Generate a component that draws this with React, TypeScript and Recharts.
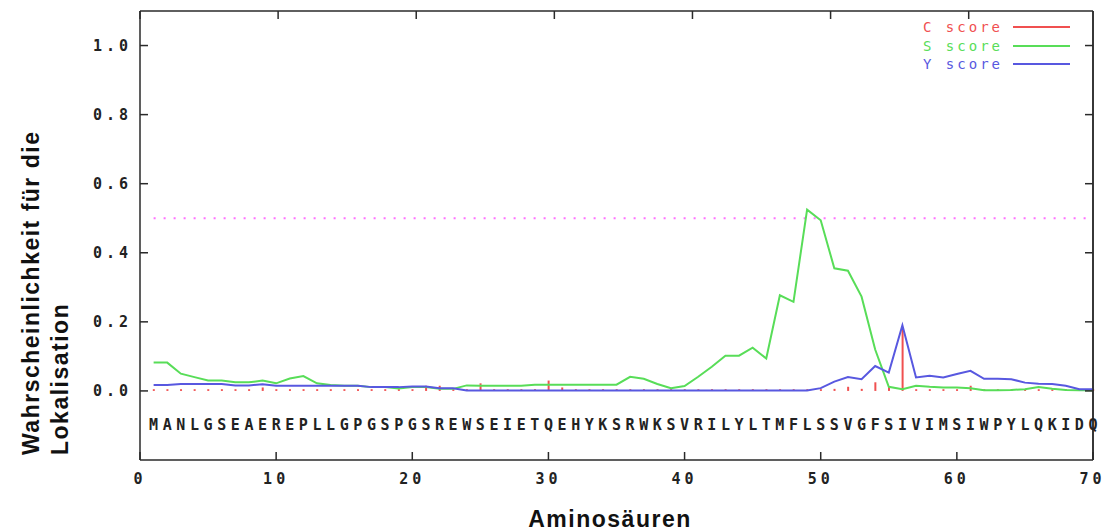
import {
  ComposedChart,
  Line,
  Bar,
  XAxis,
  YAxis,
  ReferenceLine,
  Legend,
} from "recharts"

// ── Sequence and per-residue scores ──────────────────────────────────────────
const SEQUENCE = "MANLGSEAEREPLLGPGSPGSREWSEIETQEHYKSRWKSVRILYLTMFLSSVGFSIVIMSIWPYLQKIDQ".split("")

const C_SCORE = [
  0.005, 0.005, 0.005, 0.005, 0.005, 0.005, 0.005, 0.005, 0.01, 0.005,
  0.005, 0.005, 0.005, 0.005, 0.005, 0.005, 0.005, 0.005, 0.005, 0.005,
  0.015, 0.015, 0.005, 0.005, 0.022, 0.005, 0.005, 0.005, 0.005, 0.03,
  0.01, 0.005, 0.005, 0.005, 0.005, 0.005, 0.005, 0.005, 0.005, 0.005,
  0.005, 0.005, 0.005, 0.005, 0.005, 0.005, 0.005, 0.005, 0.005, 0.005,
  0.006, 0.012, 0.006, 0.025, 0.012, 0.18, 0.005, 0.005, 0.005, 0.005,
  0.015, 0.005, 0.005, 0.005, 0.005, 0.005, 0.005, 0.005, 0.005, 0.005,
]

const S_SCORE = [
  0.082, 0.082, 0.05, 0.04, 0.03, 0.03, 0.025, 0.025, 0.03, 0.022,
  0.036, 0.043, 0.022, 0.017, 0.015, 0.015, 0.011, 0.011, 0.007, 0.011,
  0.011, 0.006, 0.006, 0.016, 0.015, 0.015, 0.015, 0.015, 0.018, 0.018,
  0.018, 0.018, 0.018, 0.018, 0.018, 0.041, 0.035, 0.02, 0.008, 0.014,
  0.041, 0.07, 0.102, 0.102, 0.125, 0.094, 0.277, 0.258, 0.525, 0.494,
  0.355, 0.348, 0.273, 0.12, 0.012, 0.005, 0.015, 0.012, 0.01, 0.01,
  0.008, 0.002, 0.002, 0.003, 0.005, 0.011, 0.006, 0.003, 0.002, 0.002,
]

const Y_SCORE = [
  0.017, 0.017, 0.02, 0.02, 0.02, 0.02, 0.016, 0.016, 0.019, 0.015,
  0.015, 0.015, 0.015, 0.015, 0.015, 0.015, 0.011, 0.011, 0.011, 0.013,
  0.013, 0.008, 0.008, 0.001, 0.001, 0.001, 0.001, 0.001, 0.001, 0.001,
  0.001, 0.001, 0.001, 0.001, 0.001, 0.001, 0.001, 0.001, 0.001, 0.001,
  0.001, 0.001, 0.001, 0.001, 0.001, 0.001, 0.001, 0.001, 0.001, 0.008,
  0.027, 0.04, 0.034, 0.072, 0.053, 0.19, 0.039, 0.044, 0.039, 0.049,
  0.058, 0.035, 0.035, 0.034, 0.024, 0.021, 0.02, 0.015, 0.005, 0.005,
]

const X_TICKS = [0, 10, 20, 30, 40, 50, 60, 70]
const Y_TICKS = [0, 0.2, 0.4, 0.6, 0.8, 1.0]
const Y_DOMAIN = [-0.2, 1.1]
const X_MAX = 70
const CUTOFF = 0.5
const SEQ_ROW = -0.1

const LEGEND_ITEMS = [
  { name: "C score", color: "#f05050" },
  { name: "S score", color: "#58dd58" },
  { name: "Y score", color: "#5858e0" },
]

const MONO = '"DejaVu Sans Mono", "Liberation Mono", monospace'
const SANS = '"Liberation Sans", Arial, sans-serif'
const FRAME = "#2a2a2a"

const data = SEQUENCE.map((aa, i) => ({
  pos: i + 1,
  aa,
  c: C_SCORE[i],
  s: S_SCORE[i],
  y: Y_SCORE[i],
}))

const tickStyle = { fontFamily: MONO, fontSize: 15, fontWeight: 700, fill: "#222", letterSpacing: 4 }
const frameLine = { stroke: FRAME, strokeWidth: 1.5 }

// residue letters written along the plot floor
function renderResidue(props: any) {
  const { cx, cy, payload, index } = props
  return (
    <text
      key={`aa-${index}`}
      x={cx}
      y={cy}
      textAnchor="middle"
      dominantBaseline="central"
      fontFamily={MONO}
      fontSize={15}
      fontWeight={700}
      fill="#222"
    >
      {payload.aa}
    </text>
  )
}

function renderLegend() {
  return (
    <div style={{ fontFamily: MONO, fontSize: 14, lineHeight: "18.5px" }}>
      {LEGEND_ITEMS.map((item) => (
        <div
          key={item.name}
          style={{ display: "flex", alignItems: "center", justifyContent: "flex-end" }}
        >
          <span style={{ color: item.color, letterSpacing: 3 }}>{item.name}</span>
          <span
            style={{
              display: "inline-block",
              width: 57,
              height: 2,
              background: item.color,
              marginLeft: 10,
            }}
          />
        </div>
      ))}
    </div>
  )
}

function renderYTitle() {
  return (
    <g fontFamily={SANS} fontSize={23} fontWeight={700} fill="#111" letterSpacing={1.5}>
      <text x={31} y={447} transform="rotate(-90 31 447)" textAnchor="start">
        Wahrscheinlichkeit für die
      </text>
      <text x={60} y={447} transform="rotate(-90 60 447)" textAnchor="start">
        Lokalisation
      </text>
    </g>
  )
}

function renderXTitle() {
  return (
    <text
      x={602}
      y={519}
      textAnchor="middle"
      fontFamily={SANS}
      fontSize={23}
      fontWeight={700}
      fill="#111"
      letterSpacing={1.5}
    >
      Aminosäuren
    </text>
  )
}

export default function App() {
  return (
    <>
      <style>{"html, body { overflow: hidden; }"}</style>
      <div
        style={{
          position: "absolute",
          top: 8,
          left: 8,
          width: 1096,
          height: 523,
          background: "#fff",
        }}
      >
        <ComposedChart
          width={1096}
          height={523}
          data={data}
          margin={{ top: 2, right: 10, left: 0, bottom: 8 }}
          style={{ overflow: "visible" }}
        >
          <XAxis
            xAxisId="bottom"
            type="number"
            dataKey="pos"
            domain={[0, X_MAX]}
            ticks={X_TICKS}
            height={63}
            tickSize={-8}
            tickMargin={21}
            axisLine={frameLine}
            tickLine={frameLine}
            tick={tickStyle}
            label={renderXTitle}
          />
          <XAxis
            xAxisId="top"
            orientation="top"
            type="number"
            domain={[0, X_MAX]}
            ticks={X_TICKS}
            height={1}
            tickSize={-8}
            tickFormatter={() => ""}
            axisLine={frameLine}
            tickLine={frameLine}
          />
          <YAxis
            yAxisId="left"
            type="number"
            domain={Y_DOMAIN}
            ticks={Y_TICKS}
            width={132}
            tickSize={-8}
            tickMargin={16}
            tickFormatter={(v: number) => v.toFixed(1)}
            axisLine={frameLine}
            tickLine={frameLine}
            tick={tickStyle}
            label={renderYTitle}
          />
          <YAxis
            yAxisId="right"
            orientation="right"
            type="number"
            domain={Y_DOMAIN}
            ticks={Y_TICKS}
            width={1}
            tickSize={-8}
            tickFormatter={() => ""}
            axisLine={frameLine}
            tickLine={frameLine}
          />
          {/* right edge of the plot frame */}
          <ReferenceLine
            xAxisId="bottom"
            yAxisId="left"
            x={X_MAX}
            stroke={FRAME}
            strokeWidth={1.5}
          />
          <ReferenceLine
            xAxisId="bottom"
            yAxisId="left"
            segment={[
              { x: 1, y: CUTOFF },
              { x: X_MAX, y: CUTOFF },
            ]}
            stroke="#ff70ff"
            strokeWidth={2}
            strokeDasharray="2 8"
          />
          <Line
            xAxisId="bottom"
            yAxisId="left"
            type="linear"
            dataKey="s"
            name="S score"
            stroke={LEGEND_ITEMS[1].color}
            strokeWidth={2}
            dot={false}
            activeDot={false}
            isAnimationActive={false}
          />
          {/* same domain as the left axis */}
          <Line
            xAxisId="bottom"
            yAxisId="right"
            type="linear"
            dataKey="y"
            name="Y score"
            stroke={LEGEND_ITEMS[2].color}
            strokeWidth={2}
            dot={false}
            activeDot={false}
            isAnimationActive={false}
          />
          <Bar
            xAxisId="bottom"
            yAxisId="left"
            dataKey="c"
            name="C score"
            fill={LEGEND_ITEMS[0].color}
            barSize={2}
            isAnimationActive={false}
          />
          <Line
            xAxisId="bottom"
            yAxisId="left"
            dataKey={() => SEQ_ROW}
            stroke="none"
            dot={renderResidue}
            activeDot={false}
            legendType="none"
            isAnimationActive={false}
          />
          <Legend
            layout="vertical"
            align="center"
            verticalAlign="middle"
            content={renderLegend}
            wrapperStyle={{ position: "absolute", top: 10, left: 876, width: 186, bottom: "auto" }}
          />
        </ComposedChart>
      </div>
    </>
  )
}
